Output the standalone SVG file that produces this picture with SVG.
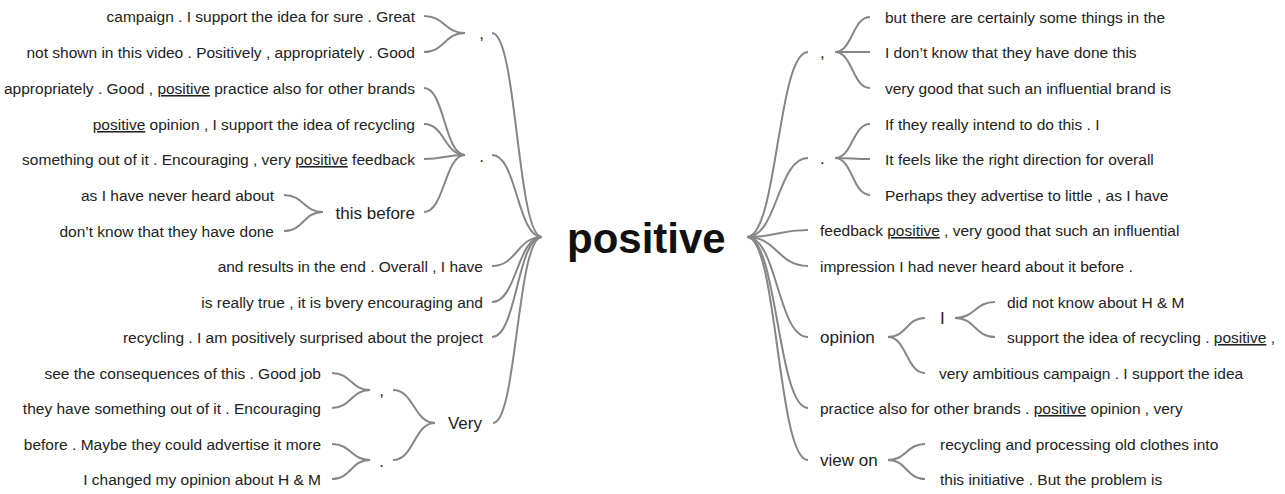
<svg xmlns="http://www.w3.org/2000/svg" width="1285" height="494" viewBox="0 0 1285 494">
<style>
text{font-family:"Liberation Sans",Arial,sans-serif;fill:#222}
.leaf{font-size:15.5px}
.mid{font-size:17px}
.root{font-size:42px;font-weight:bold;fill:#111}
.l{text-anchor:end}
.u{text-decoration:underline;text-decoration-color:#888}
#connectors path{fill:none;stroke:#868686;stroke-width:2}
</style>
<rect width="1285" height="494" fill="#fff"/>
<g id="connectors">
<path d="M492,33 C517,33 517,237 542,237"/>
<path d="M492,155 C517,155 517,237 542,237"/>
<path d="M492,266 C517,266 517,237 542,237"/>
<path d="M492,302 C517,302 517,237 542,237"/>
<path d="M492,337 C517,337 517,237 542,237"/>
<path d="M493,423 C517,423 517,237 542,237"/>
<path d="M424,16 C444.5,16 444.5,33 465,33"/>
<path d="M424,52 C444.5,52 444.5,33 465,33"/>
<path d="M424,88 C444.5,88 444.5,155 465,155"/>
<path d="M424,124 C444.5,124 444.5,155 465,155"/>
<path d="M424,159 C444.5,159 444.5,155 465,155"/>
<path d="M424,212 C444.5,212 444.5,155 465,155"/>
<path d="M284,195 C303.5,195 303.5,212 323,212"/>
<path d="M284,231 C303.5,231 303.5,212 323,212"/>
<path d="M393,390 C414,390 414,423 435,423"/>
<path d="M393,460 C414,460 414,423 435,423"/>
<path d="M332,373 C351,373 351,390 370,390"/>
<path d="M332,408 C351,408 351,390 370,390"/>
<path d="M332,444 C351,444 351,460 370,460"/>
<path d="M332,479 C351,479 351,460 370,460"/>
<path d="M747,237 C777.5,237 777.5,52 808,52"/>
<path d="M747,237 C777.5,237 777.5,158 808,158"/>
<path d="M747,237 C777.5,237 777.5,230 808,230"/>
<path d="M747,237 C777.5,237 777.5,266 808,266"/>
<path d="M747,237 C777.5,237 777.5,337 808,337"/>
<path d="M747,237 C777.5,237 777.5,408 808,408"/>
<path d="M747,237 C777.5,237 777.5,460 808,460"/>
<path d="M835,52 C852.5,52 852.5,17 870,17"/>
<path d="M835,52 C852.5,52 852.5,52 870,52"/>
<path d="M835,52 C852.5,52 852.5,88 870,88"/>
<path d="M835,158 C852.5,158 852.5,124 870,124"/>
<path d="M835,158 C852.5,158 852.5,159 870,159"/>
<path d="M835,158 C852.5,158 852.5,195 870,195"/>
<path d="M888,337 C906.5,337 906.5,318 925,318"/>
<path d="M888,337 C906.5,337 906.5,373 925,373"/>
<path d="M955,318 C975,318 975,302 995,302"/>
<path d="M955,318 C975,318 975,337 995,337"/>
<path d="M888,460 C906.5,460 906.5,444 925,444"/>
<path d="M888,460 C906.5,460 906.5,479 925,479"/>
</g>
<g id="root"><text class="root" x="567" y="253">positive</text></g>
<g id="left-comma"><text class="mid l" x="484" y="39">,</text></g>
<g id="left-l1"><text class="leaf l" x="415" y="22">campaign . I support the idea for sure . Great</text></g>
<g id="left-l2"><text class="leaf l" x="415" y="58">not shown in this video . Positively , appropriately . Good</text></g>
<g id="left-dot"><text class="mid l" x="484" y="162">.</text></g>
<g id="left-l3"><text class="leaf l" x="415" y="94">appropriately . Good , <tspan class="u">positive</tspan> practice also for other brands</text></g>
<g id="left-l4"><text class="leaf l" x="415" y="130"><tspan class="u">positive</tspan> opinion , I support the idea of recycling</text></g>
<g id="left-l5"><text class="leaf l" x="415" y="165">something out of it . Encouraging , very <tspan class="u">positive</tspan> feedback</text></g>
<g id="left-thisbefore"><text class="mid l" x="415" y="219">this before</text></g>
<g id="left-l6"><text class="leaf l" x="274" y="201">as I have never heard about</text></g>
<g id="left-l7"><text class="leaf l" x="274" y="237">don’t know that they have done</text></g>
<g id="left-l8"><text class="leaf l" x="483" y="272">and results in the end . Overall , I have</text></g>
<g id="left-l9"><text class="leaf l" x="483" y="308">is really true , it is bvery encouraging and</text></g>
<g id="left-l10"><text class="leaf l" x="483" y="343">recycling . I am positively surprised about the project</text></g>
<g id="left-very"><text class="mid l" x="482" y="429">Very</text></g>
<g id="left-very-comma"><text class="mid l" x="384" y="396">,</text></g>
<g id="left-very-dot"><text class="mid l" x="384" y="467">.</text></g>
<g id="left-l11"><text class="leaf l" x="321" y="379">see the consequences of this . Good job</text></g>
<g id="left-l12"><text class="leaf l" x="321" y="414">they have something out of it . Encouraging</text></g>
<g id="left-l13"><text class="leaf l" x="321" y="450">before . Maybe they could advertise it more</text></g>
<g id="left-l14"><text class="leaf l" x="321" y="485">I changed my opinion about H &amp; M</text></g>
<g id="right-comma"><text class="mid" x="820" y="58">,</text></g>
<g id="right-r1"><text class="leaf" x="885" y="23">but there are certainly some things in the</text></g>
<g id="right-r2"><text class="leaf" x="885" y="58">I don’t know that they have done this</text></g>
<g id="right-r3"><text class="leaf" x="885" y="94">very good that such an influential brand is</text></g>
<g id="right-dot"><text class="mid" x="820" y="164">.</text></g>
<g id="right-r4"><text class="leaf" x="885" y="130">If they really intend to do this . I</text></g>
<g id="right-r5"><text class="leaf" x="885" y="165">It feels like the right direction for overall</text></g>
<g id="right-r6"><text class="leaf" x="885" y="201">Perhaps they advertise to little , as I have</text></g>
<g id="right-r7"><text class="leaf" x="820" y="236">feedback <tspan class="u">positive</tspan> , very good that such an influential</text></g>
<g id="right-r8"><text class="leaf" x="820" y="272">impression I had never heard about it before .</text></g>
<g id="right-opinion"><text class="mid" x="820" y="343">opinion</text></g>
<g id="right-I"><text class="mid" x="940" y="324">I</text></g>
<g id="right-r9"><text class="leaf" x="1007" y="308">did not know about H &amp; M</text></g>
<g id="right-r10"><text class="leaf" x="1007" y="343">support the idea of recycling . <tspan class="u">positive</tspan> ,</text></g>
<g id="right-r11"><text class="leaf" x="939" y="379">very ambitious campaign . I support the idea</text></g>
<g id="right-r12"><text class="leaf" x="820" y="414">practice also for other brands . <tspan class="u">positive</tspan> opinion , very</text></g>
<g id="right-viewon"><text class="mid" x="820" y="466">view on</text></g>
<g id="right-r13"><text class="leaf" x="940" y="450">recycling and processing old clothes into</text></g>
<g id="right-r14"><text class="leaf" x="940" y="485">this initiative . But the problem is</text></g>
</svg>
